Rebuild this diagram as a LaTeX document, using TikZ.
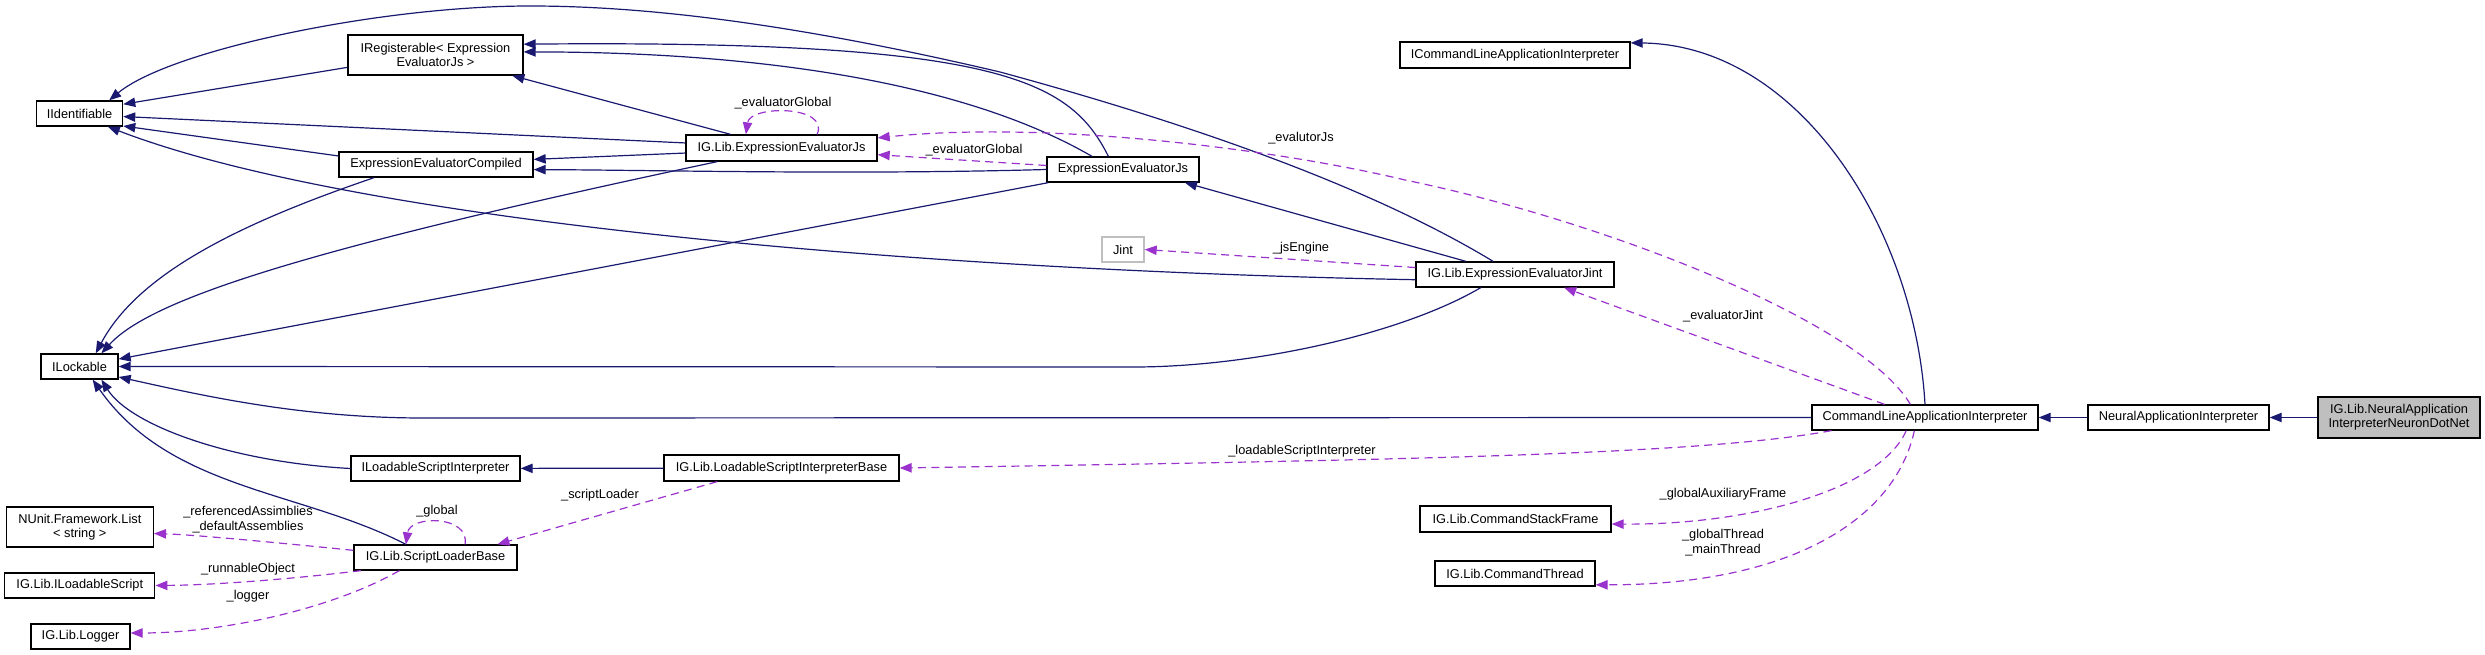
\documentclass[tikz,border=0pt]{standalone}
\usepackage{fontspec}
\setmainfont{Liberation Sans}
\usepackage{xcolor}
\usetikzlibrary{arrows.meta}
\definecolor{inhblue}{HTML}{191970}
\definecolor{usepurple}{HTML}{9A32CD}
\definecolor{rootgray}{HTML}{BFBFBF}

\begin{document}
\begin{tikzpicture}[x=0.75pt, y=-0.75pt, >={Triangle[length=9pt, width=7pt]},
    cls/.style={draw=black, line width=1pt, fill=white, inner sep=0pt, align=center,
        minimum height=18.75pt, font=\fontsize{9.6}{10.75}\selectfont},
    wd/.style={minimum width=#1*0.75pt},
    ht/.style={minimum height=#1*0.75pt},
    lbl/.style={inner sep=0pt, align=center, font=\fontsize{9.6}{11.2}\selectfont},
    inh/.style={draw=inhblue, line width=0.9pt, ->},
    uses/.style={draw=usepurple, line width=0.9pt, dash pattern=on 6pt off 4pt, ->}]
    \useasboundingbox (0,0) rectangle (2485,655);

    % Nodes
    \node[cls, wd=86] (ident) at (79.6,113.5) {IIdentifiable};
    \node[cls, wd=77] (lock) at (79.5,366.5) {ILockable};
    \node[cls, wd=175, ht=40] (ireg) at (435.5,55) {IRegisterable< Expression\\EvaluatorJs >};
    \node[cls, wd=194] (compiled) at (436,164.5) {ExpressionEvaluatorCompiled};
    \node[cls, wd=191, ht=26] (igjs) at (781.5,148) {IG.Lib.ExpressionEvaluatorJs};
    \node[cls, wd=152] (evjs) at (1123,169.5) {ExpressionEvaluatorJs};
    \node[cls, wd=42, draw=rootgray] (jint) at (1123,249.5) {Jint};
    \node[cls, wd=198] (jintev) at (1515,274.5) {IG.Lib.ExpressionEvaluatorJint};
    \node[cls, wd=230, ht=26] (iclai) at (1515,55) {ICommandLineApplicationInterpreter};
    \node[cls, wd=226] (clai) at (1925,417.5) {CommandLineApplicationInterpreter};
    \node[cls, wd=181] (nai) at (2178.5,417.5) {NeuralApplicationInterpreter};
    \node[cls, wd=162, ht=41, fill=rootgray] (root) at (2399,417.5) {IG.Lib.NeuralApplication\\InterpreterNeuronDotNet};
    \node[cls, wd=169] (ilsi) at (435.5,468.5) {ILoadableScriptInterpreter};
    \node[cls, wd=235, ht=26] (lsib) at (781.5,468) {IG.Lib.LoadableScriptInterpreterBase};
    \node[cls, wd=163] (slb) at (435.5,557.5) {IG.Lib.ScriptLoaderBase};
    \node[cls, wd=147, ht=40] (nunit) at (79.8,527) {NUnit.Framework.List\\< string >};
    \node[cls, wd=150] (ilscript) at (79.8,585.5) {IG.Lib.ILoadableScript};
    \node[cls, wd=99] (logger) at (80.5,636.5) {IG.Lib.Logger};
    \node[cls, wd=191, ht=26] (csf) at (1515.5,519) {IG.Lib.CommandStackFrame};
    \node[cls, wd=160] (cthread) at (1515,573.5) {IG.Lib.CommandThread};

    % Inheritance arrows
    \draw[inh] (root) -- (nai);
    \draw[inh] (nai) -- (clai);
    \draw[inh] (clai.north) .. controls (1915,230) and (1800,45) .. (iclai.6);
    \draw[inh] (evjs.138) .. controls (1070,80) and (1000,40) .. (ireg.7);
    \draw[inh] (evjs.157) .. controls (960,80) and (750,52) .. (ireg.2);
    \draw[inh] (evjs.west) .. controls (850,175) and (650,170) .. (compiled.-3);
    \draw[inh] (evjs.190) -- (lock);
    \draw[inh] (igjs.165) -- (ireg);
    \draw[inh] (igjs.177) -- (ident.-4);
    \draw[inh] (igjs.183) -- (compiled.3);
    \draw[inh] (igjs.192) .. controls (300,250) and (150,300) .. (lock.31);
    \draw[inh] (compiled.192) .. controls (250,220) and (140,270) .. (lock.39);
    \draw[inh] (ireg.188) -- (ident.12);
    \draw[inh] (compiled.175) -- (ident.-16);
    \draw[inh] (jintev.149) .. controls (1400,205) and (1250,140) .. (1000,72)
        .. controls (800,25) and (650,6) .. (530,6)
        .. controls (380,6) and (170,50) .. (ident.24);
    \draw[inh] (jintev.183) .. controls (900,270) and (350,220) .. (ident.-25);
    \draw[inh] (jintev.165) -- (evjs.-12);
    \draw[inh] (jintev.201) .. controls (1400,335) and (1250,367) .. (1134,367) -- (lock.east);
    \draw[inh] (clai.west) -- (423,418) .. controls (300,418) and (200,395) .. (lock.-15);
    \draw[inh] (lsib) -- (ilsi);
    \draw[inh] (ilsi.west) .. controls (230,462) and (130,425) .. (lock.-31);
    \draw[inh] (slb.156) .. controls (300,490) and (170,490) .. (lock.-45);

    % Dashed arrows for members
    \draw[uses] (igjs.21) .. controls (830,105) and (750,105) .. (igjs.159)
        node[lbl] (lglobself) at (783,103) {\_evaluatorGlobal};
    \draw[uses] (evjs.177) -- (igjs.-4)
        node[lbl] (lglob) at (974,150) {\_evaluatorGlobal};
    \draw[uses] (clai.138) .. controls (1860,320) and (1600,220) .. (1405,180)
        .. controls (1280,150) and (1050,120) .. (igjs.6)
        node[lbl] (levjs) at (1301,138) {\_evalutorJs};
    \draw[uses] (clai.162) -- (jintev.-15)
        node[lbl] (levjint) at (1723,316) {\_evaluatorJint};
    \draw[uses] (jintev.176) -- (jint.east)
        node[lbl] (ljs) at (1301,248) {\_jsEngine};
    \draw[uses] (clai.188) .. controls (1700,455) and (1400,460) .. (lsib.east)
        node[lbl] (llsi) at (1302,451) {\_loadableScriptInterpreter};
    \draw[uses] (clai.215) .. controls (1880,490) and (1750,525) .. (csf.-3)
        node[lbl] (laux) at (1723,494) {\_globalAuxiliaryFrame};
    \draw[uses] (clai.231) .. controls (1895,520) and (1790,585) .. (cthread.-8)
        node[lbl] (lthr) at (1723,542.5) {\_globalThread\\\_mainThread};
    \draw[uses] (lsib.192) -- (slb.12)
        node[lbl] (lsl) at (600,495) {\_scriptLoader};
    \draw[uses] (slb.24) .. controls (470,515) and (410,515) .. (slb.156)
        node[lbl] (lglb) at (437,511) {\_global};
    \draw[uses] (slb.175) .. controls (300,545) and (200,535) .. (nunit.-5)
        node[lbl] (lasm) at (248,519.5) {\_referencedAssimblies\\\_defaultAssemblies};
    \draw[uses] (slb.190) .. controls (300,578) and (220,585) .. (ilscript.east)
        node[lbl] (lrun) at (248,569) {\_runnableObject};
    \draw[uses] (slb.200) .. controls (330,610) and (220,633) .. (logger.4)
        node[lbl] (llog) at (248,596) {\_logger};

\end{tikzpicture}
\end{document}
